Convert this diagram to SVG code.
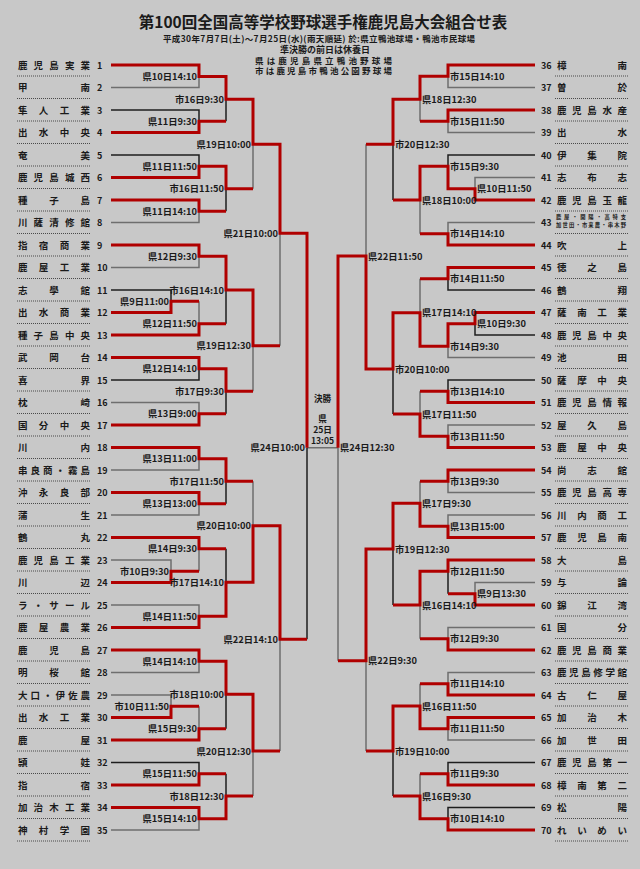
<svg xmlns="http://www.w3.org/2000/svg" width="640" height="869" viewBox="0 0 640 869">
<style>
text{font-family:"Noto Sans CJK JP","Noto Sans CJK SC",sans-serif;font-weight:bold;fill:#1a1a1a}
.nm{font-size:9.5px}
.no{font-size:9px}
.lb{font-size:9.3px}
.le{text-anchor:end}
.sm{font-size:5.3px}
.fn{font-size:8.6px;text-anchor:middle}
.h1{font-size:15.5px}
.h2{font-size:8.5px}
.dt{stroke:#4a4a4a;stroke-width:1.1;stroke-dasharray:1 1;fill:none}
.r{stroke:#b00000;stroke-width:3;fill:none;stroke-linejoin:miter}
.g{stroke:#6e6e6e;stroke-width:1.5;fill:none}
.k{stroke:#1e1e1e;stroke-width:1.5;fill:none}
</style>
<rect width="640" height="869" fill="#c8c8c8"/>
<g id="header">
<text class="h1" x="323" y="28" text-anchor="middle">第100回全国高等学校野球選手権鹿児島大会組合せ表</text>
<text class="h2" x="163" y="41.5" textLength="312" lengthAdjust="spacing">平成30年7月7日(土)〜7月25日(水)(雨天順延) 於:県立鴨池球場・鴨池市民球場</text>
<text class="h2" x="325" y="52.5" text-anchor="middle" style="font-size:9px">準決勝の前日は休養日</text>
<text class="h2" x="255" y="63.8" textLength="137" lengthAdjust="spacing">県は鹿児島県立鴨池野球場</text>
<text class="h2" x="255" y="74.3" textLength="137" lengthAdjust="spacing">市は鹿児島市鴨池公園野球場</text>
</g>
<g id="connectors">
<path class="g" d="M111,87.5H199V76.5M111,222.5H199V211.25M111,267.5H199V256.25M199,301.25V323.75M111,402.5H199V413.75M111,470H199V458.75M111,515H199V503.75M111,560H171V571.25M199,571.25V548.75M111,605H199V616.25M111,672.5H199V661.25M111,695H171V706.25M199,706.25V728.75M111,830H199V818.75M253,188.7V144.3M253,391.25V345.7M253,481.25V525.7M253,796V751M280,345.7V233.3M280,751V639.3M307,447.7H338"/>
<path class="k" d="M111,110H199V121.25M111,155H199V166.25M111,290H171V301.25M111,380H199V368.75M111,762.5H199V773.75M226,121.25V99.3M226,211.25V188.7M226,323.75V290M226,413.75V391.25M226,503.75V481.25M226,548.75V582.3M226,728.75V694.3M226,773.75V796M307,639.3V447.7"/>
<path class="g" d="M535,87.5H448V76.25M535,132.5H448V121.25M535,177.5H475V188.75M535,222.5H448V233.75M535,357.5H448V346.25M535,425H448V436.25M535,492.5H448V481.25M535,515H448V526.25M535,582.5H475V593.75M535,627.5H448V638.75M535,672.5H448V683.75M535,740H448V728.75M420,121.25V99.3M420,233.75V200M420,278.75V312.7M420,391.25V414M420,481.25V503.3M420,638.75V605M420,683.75V706M420,773.75V796M366,144.3V256M366,751V660.7M338,660.7V447.7"/>
<path class="k" d="M535,155H448V166.25M535,290H448V278.75M535,335H475V323.75M535,380H448V391.25M448,593.75V571.25M535,762.5H448V773.75M535,807.5H448V818.75M393,200V144.3M393,414V369M393,605V549M393,796V751"/>
<path class="r" d="M111,65H199V76.5H226V99.3H253V144.3H280V233.3H307V447.7"/>
<path class="r" d="M111,132.5H199V121.25H226"/>
<path class="r" d="M111,177.5H199V166.25H226V188.7H253"/>
<path class="r" d="M111,200H199V211.25H226"/>
<path class="r" d="M111,245H199V256.25H226V290H253V345.7H280"/>
<path class="r" d="M111,312.5H171V301.25H199"/>
<path class="r" d="M111,335H199V323.75H226"/>
<path class="r" d="M111,357.5H199V368.75H226V391.25H253"/>
<path class="r" d="M111,425H199V413.75H226"/>
<path class="r" d="M111,447.5H199V458.75H226V481.25H253"/>
<path class="r" d="M111,492.5H199V503.75H226"/>
<path class="r" d="M111,537.5H199V548.75H226"/>
<path class="r" d="M111,582.5H171V571.25H199"/>
<path class="r" d="M111,627.5H199V616.25H226V582.3H253V525.7H280V639.3H307"/>
<path class="r" d="M111,650H199V661.25H226V694.3H253V751H280"/>
<path class="r" d="M111,717.5H171V706.25H199"/>
<path class="r" d="M111,740H199V728.75H226"/>
<path class="r" d="M111,785H199V773.75H226"/>
<path class="r" d="M111,807.5H199V818.75H226V796H253"/>
<path class="r" d="M535,65H448V76.25H420V99.3H393V144.3H366"/>
<path class="r" d="M535,110H448V121.25H420"/>
<path class="r" d="M535,200H475V188.75H448V166.25H420V200H393"/>
<path class="r" d="M535,245H448V233.75H420"/>
<path class="r" d="M535,267.5H448V278.75H420"/>
<path class="r" d="M535,312.5H475V323.75H448V346.25H420V312.7H393V369H366V256H338V447.7"/>
<path class="r" d="M535,402.5H448V391.25H420"/>
<path class="r" d="M535,447.5H448V436.25H420V414H393"/>
<path class="r" d="M535,470H448V481.25H420"/>
<path class="r" d="M535,537.5H448V526.25H420V503.3H393V549H366V660.7H338"/>
<path class="r" d="M535,560H448V571.25H420V605H393"/>
<path class="r" d="M535,605H475V593.75H448"/>
<path class="r" d="M535,650H448V638.75H420"/>
<path class="r" d="M535,695H448V683.75H420"/>
<path class="r" d="M535,717.5H448V728.75H420V706H393V751H366"/>
<path class="r" d="M535,785H448V773.75H420"/>
<path class="r" d="M535,830H448V818.75H420V796H393"/>
</g>
<g id="match-labels">
<text class="lb le" x="197" y="80">県10日14:10</text>
<text class="lb le" x="224" y="102.8">市16日9:30</text>
<text class="lb le" x="197" y="124.75">県11日9:30</text>
<text class="lb le" x="251" y="147.8">県19日10:00</text>
<text class="lb le" x="197" y="169.75">県11日11:50</text>
<text class="lb le" x="224" y="192.2">市16日11:50</text>
<text class="lb le" x="197" y="214.75">県11日14:10</text>
<text class="lb le" x="278" y="236.8">県21日10:00</text>
<text class="lb le" x="197" y="259.75">県12日9:30</text>
<text class="lb le" x="224" y="293.5">市16日14:10</text>
<text class="lb le" x="169" y="304.75">県9日11:00</text>
<text class="lb le" x="197" y="327.25">県12日11:50</text>
<text class="lb le" x="251" y="349.2">県19日12:30</text>
<text class="lb le" x="197" y="372.25">県12日14:10</text>
<text class="lb le" x="224" y="394.75">市17日9:30</text>
<text class="lb le" x="197" y="417.25">県13日9:00</text>
<text class="lb le" x="305" y="451.2">県24日10:00</text>
<text class="lb le" x="197" y="462.25">県13日11:00</text>
<text class="lb le" x="224" y="484.75">市17日11:50</text>
<text class="lb le" x="197" y="507.25">県13日13:00</text>
<text class="lb le" x="251" y="529.2">県20日10:00</text>
<text class="lb le" x="197" y="552.25">県14日9:30</text>
<text class="lb le" x="169" y="574.75">市10日9:30</text>
<text class="lb le" x="224" y="585.8">市17日14:10</text>
<text class="lb le" x="197" y="619.75">県14日11:50</text>
<text class="lb le" x="278" y="642.8">県22日14:10</text>
<text class="lb le" x="197" y="664.75">県14日14:10</text>
<text class="lb le" x="224" y="697.8">市18日10:00</text>
<text class="lb le" x="169" y="709.75">市10日11:50</text>
<text class="lb le" x="197" y="732.25">県15日9:30</text>
<text class="lb le" x="251" y="754.5">県20日12:30</text>
<text class="lb le" x="197" y="777.25">県15日11:50</text>
<text class="lb le" x="224" y="799.5">市18日12:30</text>
<text class="lb le" x="197" y="822.25">県15日14:10</text>
<text class="lb" x="450" y="79.75">市15日14:10</text>
<text class="lb" x="422" y="102.8">県18日12:30</text>
<text class="lb" x="450" y="124.75">市15日11:50</text>
<text class="lb" x="395" y="147.8">市20日12:30</text>
<text class="lb" x="450" y="169.75">市15日9:30</text>
<text class="lb" x="477" y="192.25">県10日11:50</text>
<text class="lb" x="422" y="203.5">県18日10:00</text>
<text class="lb" x="450" y="237.25">市14日14:10</text>
<text class="lb" x="368" y="259.5">県22日11:50</text>
<text class="lb" x="450" y="282.25">市14日11:50</text>
<text class="lb" x="422" y="316.2">県17日14:10</text>
<text class="lb" x="477" y="327.25">県10日9:30</text>
<text class="lb" x="450" y="349.75">市14日9:30</text>
<text class="lb" x="395" y="372.5">市20日10:00</text>
<text class="lb" x="450" y="394.75">市13日14:10</text>
<text class="lb" x="422" y="417.5">県17日11:50</text>
<text class="lb" x="450" y="439.75">市13日11:50</text>
<text class="lb" x="340" y="451.2">県24日12:30</text>
<text class="lb" x="450" y="484.75">市13日9:30</text>
<text class="lb" x="422" y="506.8">県17日9:30</text>
<text class="lb" x="450" y="529.75">県13日15:00</text>
<text class="lb" x="395" y="552.5">市19日12:30</text>
<text class="lb" x="450" y="574.75">市12日11:50</text>
<text class="lb" x="477" y="597.25">県9日13:30</text>
<text class="lb" x="422" y="608.5">県16日14:10</text>
<text class="lb" x="450" y="642.25">市12日9:30</text>
<text class="lb" x="368" y="664.2">県22日9:30</text>
<text class="lb" x="450" y="687.25">市11日14:10</text>
<text class="lb" x="422" y="709.5">県16日11:50</text>
<text class="lb" x="450" y="732.25">市11日11:50</text>
<text class="lb" x="395" y="754.5">市19日10:00</text>
<text class="lb" x="450" y="777.25">市11日9:30</text>
<text class="lb" x="422" y="799.5">県16日9:30</text>
<text class="lb" x="450" y="822.25">市10日14:10</text>
</g>
<g id="final">
<text class="fn" x="322.5" y="401.5">決勝</text>
<text class="fn" x="322.5" y="421.5">県</text>
<text class="fn" x="322.5" y="433">25日</text>
<text class="fn" x="322.5" y="444.3">13:05</text>
</g>
<g id="t1"><text class="nm" x="18 33.6 49.3 64.9 80.5" y="68.5">鹿児島実業</text><text class="no" x="97" y="68.5">1</text><line class="dt" x1="17" x2="91" y1="76" y2="76"/></g>
<g id="t2"><text class="nm" x="18 80.5" y="91">甲南</text><text class="no" x="97" y="91">2</text><line class="dt" x1="17" x2="91" y1="98.5" y2="98.5"/></g>
<g id="t3"><text class="nm" x="18 38.8 59.7 80.5" y="113.5">隼人工業</text><text class="no" x="97" y="113.5">3</text><line class="dt" x1="17" x2="91" y1="121" y2="121"/></g>
<g id="t4"><text class="nm" x="18 38.8 59.7 80.5" y="136">出水中央</text><text class="no" x="97" y="136">4</text><line class="dt" x1="17" x2="91" y1="143.5" y2="143.5"/></g>
<g id="t5"><text class="nm" x="18 80.5" y="158.5">奄美</text><text class="no" x="97" y="158.5">5</text><line class="dt" x1="17" x2="91" y1="166" y2="166"/></g>
<g id="t6"><text class="nm" x="18 33.6 49.3 64.9 80.5" y="181">鹿児島城西</text><text class="no" x="97" y="181">6</text><line class="dt" x1="17" x2="91" y1="188.5" y2="188.5"/></g>
<g id="t7"><text class="nm" x="18 49.3 80.5" y="203.5">種子島</text><text class="no" x="97" y="203.5">7</text><line class="dt" x1="17" x2="91" y1="211" y2="211"/></g>
<g id="t8"><text class="nm" x="18 33.6 49.3 64.9 80.5" y="226">川薩清修館</text><text class="no" x="97" y="226">8</text><line class="dt" x1="17" x2="91" y1="233.5" y2="233.5"/></g>
<g id="t9"><text class="nm" x="18 38.8 59.7 80.5" y="248.5">指宿商業</text><text class="no" x="97" y="248.5">9</text><line class="dt" x1="17" x2="91" y1="256" y2="256"/></g>
<g id="t10"><text class="nm" x="18 38.8 59.7 80.5" y="271">鹿屋工業</text><text class="no" x="97" y="271">10</text><line class="dt" x1="17" x2="91" y1="278.5" y2="278.5"/></g>
<g id="t11"><text class="nm" x="18 49.3 80.5" y="293.5">志學館</text><text class="no" x="97" y="293.5">11</text><line class="dt" x1="17" x2="91" y1="301" y2="301"/></g>
<g id="t12"><text class="nm" x="18 38.8 59.7 80.5" y="316">出水商業</text><text class="no" x="97" y="316">12</text><line class="dt" x1="17" x2="91" y1="323.5" y2="323.5"/></g>
<g id="t13"><text class="nm" x="18 33.6 49.3 64.9 80.5" y="338.5">種子島中央</text><text class="no" x="97" y="338.5">13</text><line class="dt" x1="17" x2="91" y1="346" y2="346"/></g>
<g id="t14"><text class="nm" x="18 49.3 80.5" y="361">武岡台</text><text class="no" x="97" y="361">14</text><line class="dt" x1="17" x2="91" y1="368.5" y2="368.5"/></g>
<g id="t15"><text class="nm" x="18 80.5" y="383.5">喜界</text><text class="no" x="97" y="383.5">15</text><line class="dt" x1="17" x2="91" y1="391" y2="391"/></g>
<g id="t16"><text class="nm" x="18 80.5" y="406">枕崎</text><text class="no" x="97" y="406">16</text><line class="dt" x1="17" x2="91" y1="413.5" y2="413.5"/></g>
<g id="t17"><text class="nm" x="18 38.8 59.7 80.5" y="428.5">国分中央</text><text class="no" x="97" y="428.5">17</text><line class="dt" x1="17" x2="91" y1="436" y2="436"/></g>
<g id="t18"><text class="nm" x="18 80.5" y="451">川内</text><text class="no" x="97" y="451">18</text><line class="dt" x1="17" x2="91" y1="458.5" y2="458.5"/></g>
<g id="t19"><text class="nm" x="18 30.5 43 55.5 68 80.5" y="473.5">串良商・霧島</text><text class="no" x="97" y="473.5">19</text><line class="dt" x1="17" x2="91" y1="481" y2="481"/></g>
<g id="t20"><text class="nm" x="18 38.8 59.7 80.5" y="496">沖永良部</text><text class="no" x="97" y="496">20</text><line class="dt" x1="17" x2="91" y1="503.5" y2="503.5"/></g>
<g id="t21"><text class="nm" x="18 80.5" y="518.5">蒲生</text><text class="no" x="97" y="518.5">21</text><line class="dt" x1="17" x2="91" y1="526" y2="526"/></g>
<g id="t22"><text class="nm" x="18 80.5" y="541">鶴丸</text><text class="no" x="97" y="541">22</text><line class="dt" x1="17" x2="91" y1="548.5" y2="548.5"/></g>
<g id="t23"><text class="nm" x="18 33.6 49.3 64.9 80.5" y="563.5">鹿児島工業</text><text class="no" x="97" y="563.5">23</text><line class="dt" x1="17" x2="91" y1="571" y2="571"/></g>
<g id="t24"><text class="nm" x="18 80.5" y="586">川辺</text><text class="no" x="97" y="586">24</text><line class="dt" x1="17" x2="91" y1="593.5" y2="593.5"/></g>
<g id="t25"><text class="nm" x="18 33.6 49.3 64.9 80.5" y="608.5">ラ・サール</text><text class="no" x="97" y="608.5">25</text><line class="dt" x1="17" x2="91" y1="616" y2="616"/></g>
<g id="t26"><text class="nm" x="18 38.8 59.7 80.5" y="631">鹿屋農業</text><text class="no" x="97" y="631">26</text><line class="dt" x1="17" x2="91" y1="638.5" y2="638.5"/></g>
<g id="t27"><text class="nm" x="18 49.3 80.5" y="653.5">鹿児島</text><text class="no" x="97" y="653.5">27</text><line class="dt" x1="17" x2="91" y1="661" y2="661"/></g>
<g id="t28"><text class="nm" x="18 49.3 80.5" y="676">明桜館</text><text class="no" x="97" y="676">28</text><line class="dt" x1="17" x2="91" y1="683.5" y2="683.5"/></g>
<g id="t29"><text class="nm" x="18 30.5 43 55.5 68 80.5" y="698.5">大口・伊佐農</text><text class="no" x="97" y="698.5">29</text><line class="dt" x1="17" x2="91" y1="706" y2="706"/></g>
<g id="t30"><text class="nm" x="18 38.8 59.7 80.5" y="721">出水工業</text><text class="no" x="97" y="721">30</text><line class="dt" x1="17" x2="91" y1="728.5" y2="728.5"/></g>
<g id="t31"><text class="nm" x="18 80.5" y="743.5">鹿屋</text><text class="no" x="97" y="743.5">31</text><line class="dt" x1="17" x2="91" y1="751" y2="751"/></g>
<g id="t32"><text class="nm" x="18 80.5" y="766">頴娃</text><text class="no" x="97" y="766">32</text><line class="dt" x1="17" x2="91" y1="773.5" y2="773.5"/></g>
<g id="t33"><text class="nm" x="18 80.5" y="788.5">指宿</text><text class="no" x="97" y="788.5">33</text><line class="dt" x1="17" x2="91" y1="796" y2="796"/></g>
<g id="t34"><text class="nm" x="18 33.6 49.3 64.9 80.5" y="811">加治木工業</text><text class="no" x="97" y="811">34</text><line class="dt" x1="17" x2="91" y1="818.5" y2="818.5"/></g>
<g id="t35"><text class="nm" x="18 38.8 59.7 80.5" y="833.5">神村学園</text><text class="no" x="97" y="833.5">35</text><line class="dt" x1="17" x2="91" y1="841" y2="841"/></g>
<g id="t36"><text class="no" x="541" y="68.5">36</text><text class="nm" x="557 617.5" y="68.5">樟南</text><line class="dt" x1="555" x2="629" y1="76" y2="76"/></g>
<g id="t37"><text class="no" x="541" y="91">37</text><text class="nm" x="557 617.5" y="91">曽於</text><line class="dt" x1="555" x2="629" y1="98.5" y2="98.5"/></g>
<g id="t38"><text class="no" x="541" y="113.5">38</text><text class="nm" x="557 572.1 587.3 602.4 617.5" y="113.5">鹿児島水産</text><line class="dt" x1="555" x2="629" y1="121" y2="121"/></g>
<g id="t39"><text class="no" x="541" y="136">39</text><text class="nm" x="557 617.5" y="136">出水</text><line class="dt" x1="555" x2="629" y1="143.5" y2="143.5"/></g>
<g id="t40"><text class="no" x="541" y="158.5">40</text><text class="nm" x="557 587.3 617.5" y="158.5">伊集院</text><line class="dt" x1="555" x2="629" y1="166" y2="166"/></g>
<g id="t41"><text class="no" x="541" y="181">41</text><text class="nm" x="557 587.3 617.5" y="181">志布志</text><line class="dt" x1="555" x2="629" y1="188.5" y2="188.5"/></g>
<g id="t42"><text class="no" x="541" y="203.5">42</text><text class="nm" x="557 572.1 587.3 602.4 617.5" y="203.5">鹿児島玉龍</text><line class="dt" x1="555" x2="629" y1="211" y2="211"/></g>
<g id="t43"><text class="no" x="541" y="226">43</text><text class="sm" x="556" y="219.4" textLength="70" lengthAdjust="spacing">鹿屋・開陽・高特支</text><text class="sm" x="556" y="226.6" textLength="70" lengthAdjust="spacing">加世田・市来農・串木野</text><line class="dt" x1="555" x2="629" y1="233.5" y2="233.5"/></g>
<g id="t44"><text class="no" x="541" y="248.5">44</text><text class="nm" x="557 617.5" y="248.5">吹上</text><line class="dt" x1="555" x2="629" y1="256" y2="256"/></g>
<g id="t45"><text class="no" x="541" y="271">45</text><text class="nm" x="557 587.3 617.5" y="271">徳之島</text><line class="dt" x1="555" x2="629" y1="278.5" y2="278.5"/></g>
<g id="t46"><text class="no" x="541" y="293.5">46</text><text class="nm" x="557 617.5" y="293.5">鶴翔</text><line class="dt" x1="555" x2="629" y1="301" y2="301"/></g>
<g id="t47"><text class="no" x="541" y="316">47</text><text class="nm" x="557 577.2 597.3 617.5" y="316">薩南工業</text><line class="dt" x1="555" x2="629" y1="323.5" y2="323.5"/></g>
<g id="t48"><text class="no" x="541" y="338.5">48</text><text class="nm" x="557 572.1 587.3 602.4 617.5" y="338.5">鹿児島中央</text><line class="dt" x1="555" x2="629" y1="346" y2="346"/></g>
<g id="t49"><text class="no" x="541" y="361">49</text><text class="nm" x="557 617.5" y="361">池田</text><line class="dt" x1="555" x2="629" y1="368.5" y2="368.5"/></g>
<g id="t50"><text class="no" x="541" y="383.5">50</text><text class="nm" x="557 577.2 597.3 617.5" y="383.5">薩摩中央</text><line class="dt" x1="555" x2="629" y1="391" y2="391"/></g>
<g id="t51"><text class="no" x="541" y="406">51</text><text class="nm" x="557 572.1 587.3 602.4 617.5" y="406">鹿児島情報</text><line class="dt" x1="555" x2="629" y1="413.5" y2="413.5"/></g>
<g id="t52"><text class="no" x="541" y="428.5">52</text><text class="nm" x="557 587.3 617.5" y="428.5">屋久島</text><line class="dt" x1="555" x2="629" y1="436" y2="436"/></g>
<g id="t53"><text class="no" x="541" y="451">53</text><text class="nm" x="557 577.2 597.3 617.5" y="451">鹿屋中央</text><line class="dt" x1="555" x2="629" y1="458.5" y2="458.5"/></g>
<g id="t54"><text class="no" x="541" y="473.5">54</text><text class="nm" x="557 587.3 617.5" y="473.5">尚志館</text><line class="dt" x1="555" x2="629" y1="481" y2="481"/></g>
<g id="t55"><text class="no" x="541" y="496">55</text><text class="nm" x="557 572.1 587.3 602.4 617.5" y="496">鹿児島高専</text><line class="dt" x1="555" x2="629" y1="503.5" y2="503.5"/></g>
<g id="t56"><text class="no" x="541" y="518.5">56</text><text class="nm" x="557 577.2 597.3 617.5" y="518.5">川内商工</text><line class="dt" x1="555" x2="629" y1="526" y2="526"/></g>
<g id="t57"><text class="no" x="541" y="541">57</text><text class="nm" x="557 577.2 597.3 617.5" y="541">鹿児島南</text><line class="dt" x1="555" x2="629" y1="548.5" y2="548.5"/></g>
<g id="t58"><text class="no" x="541" y="563.5">58</text><text class="nm" x="557 617.5" y="563.5">大島</text><line class="dt" x1="555" x2="629" y1="571" y2="571"/></g>
<g id="t59"><text class="no" x="541" y="586">59</text><text class="nm" x="557 617.5" y="586">与論</text><line class="dt" x1="555" x2="629" y1="593.5" y2="593.5"/></g>
<g id="t60"><text class="no" x="541" y="608.5">60</text><text class="nm" x="557 587.3 617.5" y="608.5">錦江湾</text><line class="dt" x1="555" x2="629" y1="616" y2="616"/></g>
<g id="t61"><text class="no" x="541" y="631">61</text><text class="nm" x="557 617.5" y="631">国分</text><line class="dt" x1="555" x2="629" y1="638.5" y2="638.5"/></g>
<g id="t62"><text class="no" x="541" y="653.5">62</text><text class="nm" x="557 572.1 587.3 602.4 617.5" y="653.5">鹿児島商業</text><line class="dt" x1="555" x2="629" y1="661" y2="661"/></g>
<g id="t63"><text class="no" x="541" y="676">63</text><text class="nm" x="557 569.1 581.2 593.3 605.4 617.5" y="676">鹿児島修学館</text><line class="dt" x1="555" x2="629" y1="683.5" y2="683.5"/></g>
<g id="t64"><text class="no" x="541" y="698.5">64</text><text class="nm" x="557 587.3 617.5" y="698.5">古仁屋</text><line class="dt" x1="555" x2="629" y1="706" y2="706"/></g>
<g id="t65"><text class="no" x="541" y="721">65</text><text class="nm" x="557 587.3 617.5" y="721">加治木</text><line class="dt" x1="555" x2="629" y1="728.5" y2="728.5"/></g>
<g id="t66"><text class="no" x="541" y="743.5">66</text><text class="nm" x="557 587.3 617.5" y="743.5">加世田</text><line class="dt" x1="555" x2="629" y1="751" y2="751"/></g>
<g id="t67"><text class="no" x="541" y="766">67</text><text class="nm" x="557 572.1 587.3 602.4 617.5" y="766">鹿児島第一</text><line class="dt" x1="555" x2="629" y1="773.5" y2="773.5"/></g>
<g id="t68"><text class="no" x="541" y="788.5">68</text><text class="nm" x="557 577.2 597.3 617.5" y="788.5">樟南第二</text><line class="dt" x1="555" x2="629" y1="796" y2="796"/></g>
<g id="t69"><text class="no" x="541" y="811">69</text><text class="nm" x="557 617.5" y="811">松陽</text><line class="dt" x1="555" x2="629" y1="818.5" y2="818.5"/></g>
<g id="t70"><text class="no" x="541" y="833.5">70</text><text class="nm" x="557 577.2 597.3 617.5" y="833.5">れいめい</text><line class="dt" x1="555" x2="629" y1="841" y2="841"/></g>
</svg>
